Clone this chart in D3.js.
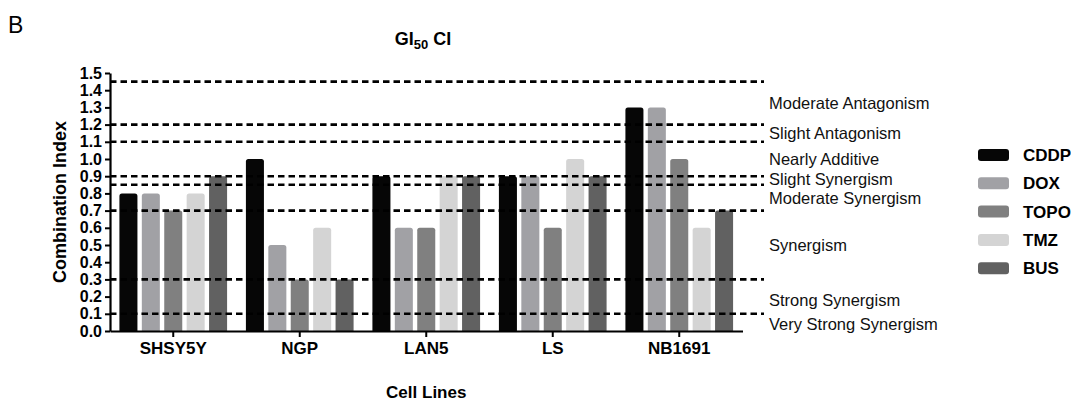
<!DOCTYPE html>
<html><head><meta charset="utf-8">
<script src="https://cdn.jsdelivr.net/npm/d3@7"></script>
<style>
body{margin:0;background:#fff;}
text{font-family:"Liberation Sans",Arial,Helvetica,sans-serif;}
</style></head>
<body>
<svg id="c" width="1071" height="401"></svg>
<script>
const cellLines = ["SHSY5Y","NGP","LAN5","LS","NB1691"];
const drugs = ["CDDP","DOX","TOPO","TMZ","BUS"];
const colors = ["#060606","#a1a1a5","#808080","#d4d4d4","#616161"];
const values = {
  CDDP: [0.8, 1.0, 0.9, 0.9, 1.3],
  DOX:  [0.8, 0.5, 0.6, 0.9, 1.3],
  TOPO: [0.7, 0.3, 0.6, 0.6, 1.0],
  TMZ:  [0.8, 0.6, 0.9, 1.0, 0.6],
  BUS:  [0.9, 0.3, 0.9, 0.9, 0.7]
};
const yTicks = [0.0,0.1,0.2,0.3,0.4,0.5,0.6,0.7,0.8,0.9,1.0,1.1,1.2,1.3,1.4,1.5];
const thresholds = [1.45, 1.2, 1.1, 0.9, 0.85, 0.7, 0.3, 0.1];
const zoneLabels = ["Moderate Antagonism","Slight Antagonism","Nearly Additive","Slight Synergism","Moderate Synergism","Synergism","Strong Synergism","Very Strong Synergism"];
const zoneLabelPos = [1.325, 1.15, 1.0, 0.882, 0.772, 0.5, 0.18, 0.04];

const svg = d3.select("#c");
const x0 = 110, x1 = 742.5, yTop = 73, yBot = 331;
const y = d3.scaleLinear().domain([0,1.5]).range([yBot, yTop]);
const xg = d3.scaleBand().domain(cellLines).range([x0, x1]).paddingInner(0).paddingOuter(0);
const xs = d3.scaleBand().domain(drugs).range([0, xg.bandwidth()]).paddingInner(0.196).paddingOuter(0.42);
const color = d3.scaleOrdinal().domain(drugs).range(colors);

// panel letter
svg.append("text").attr("x", 8).attr("y", 33).attr("font-size", 23).text("B");

// title
const t = svg.append("text").attr("x", 423).attr("y", 45).attr("text-anchor","middle")
  .attr("font-size", 18).attr("font-weight","bold");
t.append("tspan").text("GI");
t.append("tspan").attr("font-size", 13).attr("dy", 4).text("50");
t.append("tspan").attr("dy", -4).text(" CI");

// bars
const groups = svg.append("g").selectAll("g").data(cellLines).join("g")
  .attr("transform", d => `translate(${xg(d)},0)`);
groups.selectAll("rect").data((c,i) => drugs.map(d => ({drug:d, v: values[d][i]})))
  .join("rect")
  .attr("x", d => xs(d.drug))
  .attr("y", d => y(d.v))
  .attr("width", xs.bandwidth())
  .attr("height", d => y(0) - y(d.v) + 2)
  .attr("rx", 2.5)
  .attr("fill", d => color(d.drug));

// threshold dashed lines
svg.append("g").selectAll("line").data(thresholds).join("line")
  .attr("x1", x0).attr("x2", 764)
  .attr("y1", d => y(d)).attr("y2", d => y(d))
  .attr("stroke", "#000").attr("stroke-width", 2.6)
  .attr("stroke-dasharray", "6.5,4");

// white cover under the axis to clean bar bottoms
svg.append("rect").attr("x", x0+1).attr("y", yBot+1).attr("width", x1-x0).attr("height", 4).attr("fill","#fff");

// y axis
const yAxis = d3.axisLeft(y).tickValues(yTicks).tickFormat(d3.format(".1f")).tickSize(5).tickSizeOuter(0).tickPadding(3);
const ya = svg.append("g").attr("transform", `translate(${x0},0)`).call(yAxis);
ya.select(".domain").attr("stroke-width", 2.2);
ya.selectAll(".tick line").attr("stroke-width", 2);
ya.selectAll("text").attr("font-size", 16).attr("font-weight","bold")
  .attr("font-family","'Liberation Sans',Arial,sans-serif").attr("fill","#000");

// x axis
const xAxis = d3.axisBottom(xg).tickSize(6).tickSizeOuter(0).tickPadding(5);
const xa = svg.append("g").attr("transform", `translate(0,${yBot})`).call(xAxis);
xa.select(".domain").attr("stroke-width", 2.2);
xa.selectAll(".tick line").attr("stroke-width", 2);
xa.selectAll("text").attr("font-size", 17).attr("font-weight","bold")
  .attr("font-family","'Liberation Sans',Arial,sans-serif").attr("fill","#000");

// axis titles
svg.append("text").attr("transform", `translate(66,${(yTop+yBot)/2}) rotate(-90)`)
  .attr("text-anchor","middle").attr("font-size", 18).attr("font-weight","bold").text("Combination Index");
svg.append("text").attr("x", (x0+x1)/2).attr("y", 398).attr("text-anchor","middle")
  .attr("font-size", 17).attr("font-weight","bold").text("Cell Lines");

// zone labels
svg.append("g").selectAll("text").data(zoneLabels).join("text")
  .attr("x", 769).attr("y", (d,i) => y(zoneLabelPos[i])).attr("dy","0.36em")
  .attr("font-size", 16.5).attr("fill","#111").text(d => d);

// legend
const leg = svg.append("g").selectAll("g").data(drugs).join("g")
  .attr("transform", (d,i) => `translate(978,${155 + i*28.3})`);
leg.append("rect").attr("x",0).attr("y",-6).attr("width",31).attr("height",12).attr("rx",3)
  .attr("fill", d => color(d));
leg.append("text").attr("x", 45).attr("y", 0).attr("dy","0.36em")
  .attr("font-size", 17).attr("font-weight","bold").text(d => d);
</script>
</body></html>
